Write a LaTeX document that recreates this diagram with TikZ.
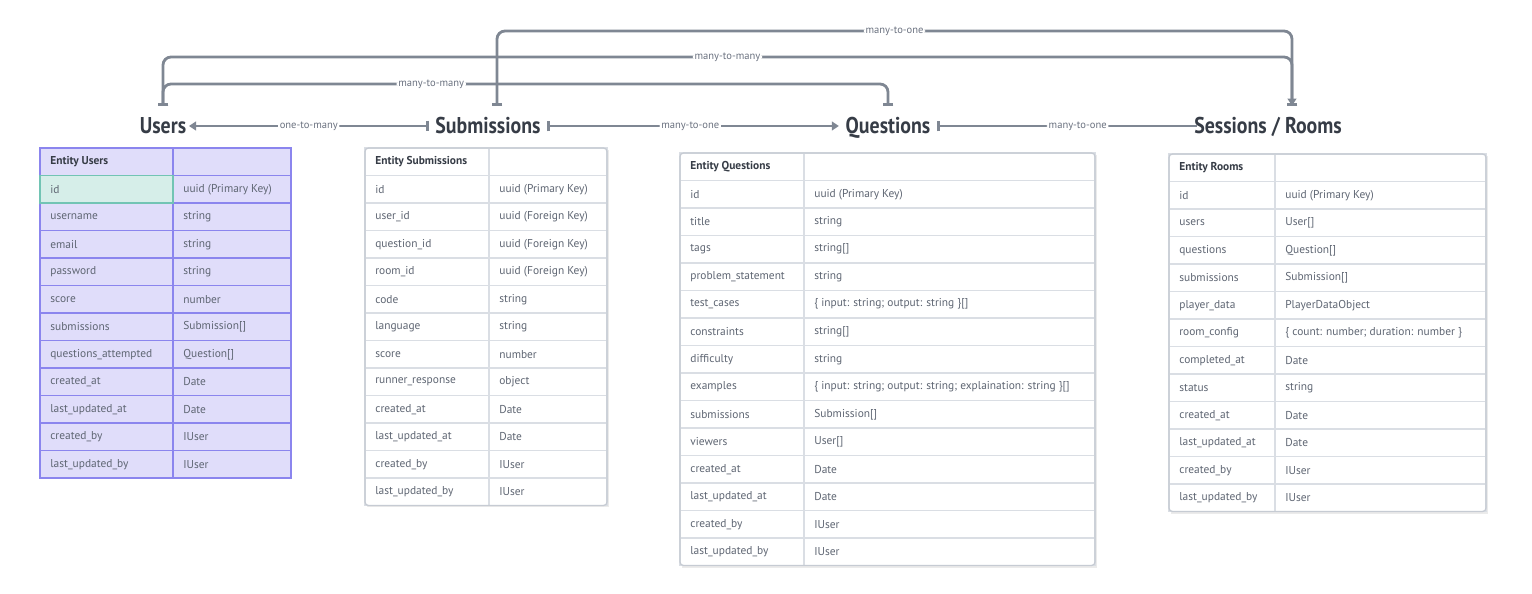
\documentclass[tikz,border=0pt]{standalone}
\usepackage{fontspec}
\setmainfont{PT Sans}
\newfontfamily\titlefont{PT Sans}[FakeStretch=0.87]
\usetikzlibrary{arrows.meta}
\definecolor{linkgray}{HTML}{7F8793}
\definecolor{labelgray}{HTML}{6B7280}
\definecolor{titlegray}{HTML}{363C46}
\definecolor{cellgray}{HTML}{5F6673}
\definecolor{gridgray}{HTML}{DADEE4}
\definecolor{framegray}{HTML}{C6CBD3}
\definecolor{userfill}{HTML}{E0DDFA}
\definecolor{userline}{HTML}{8B85EE}
\definecolor{keyfill}{HTML}{D6EEE9}
\definecolor{keyline}{HTML}{72C4B4}
\tikzset{rbar/.tip={Bar[width=6pt]},rtri/.tip={Triangle[length=4pt,width=5pt]}}
\newcommand{\entityhead}[1]{\textcolor{titlegray}{\bfseries #1}}
\newcommand{\entitytable}[6]{%
  \foreach \fname/\ftype [count=\i from 0] in {#6} {
    \draw[#5] (#1,#4+\i*27.5) rectangle (#2,#4+\i*27.5+27.5)
      (#2,#4+\i*27.5) rectangle (#3,#4+\i*27.5+27.5);
    \node[field] at (#1,#4+\i*27.5+13.75) {\fname};
    \node[field] at (#2,#4+\i*27.5+13.75) {\ftype};
  }
}
\begin{document}
\begin{tikzpicture}[x=0.02cm,y=-0.02cm,
  link/.style={draw=linkgray,line width=1.6pt,rounded corners=0.16cm},
  lbl/.style={fill=white,text=labelgray,font=\fontsize{6}{7}\selectfont,inner sep=1pt},
  title/.style={font=\titlefont\bfseries\fontsize{13}{15}\selectfont,text=titlegray,text height=1.07em,text depth=0.22em,minimum height=0.8cm,inner xsep=0.13cm,inner ysep=0pt},
  field/.style={anchor=west,inner sep=0pt,xshift=0.2cm,text=cellgray,font=\fontsize{6.5}{8}\selectfont},
  usercell/.style={draw=userline,fill=userfill,line width=0.7pt},
  plaincell/.style={draw=gridgray,fill=white,line width=0.6pt}]
\useasboundingbox (0,0) rectangle (1532,594);

\node[title] (users) at (163,126) {Users};
\node[title] (subm) at (488,126) {Submissions};
\node[title] (quest) at (888,126) {Questions};
\node[title] (rooms) at (1268,126) {Sessions / Rooms};

\coordinate (railA) at (0,31);
\coordinate (railB) at (0,57);
\coordinate (railC) at (0,84);
\coordinate (substop) at ([xshift=0.18cm]subm.north);
\coordinate (roomstop) at ([xshift=0.48cm]rooms.north);

\draw[link,rbar-rbar] (users.north) -- (users.north |- railC) -- node[lbl,pos=0.37] {many-to-many} (quest.north |- railC) -- (quest.north);
\draw[link,rbar-rbar] (users.north) -- (users.north |- railB) -- node[lbl,pos=0.5] {many-to-many} (roomstop |- railB) -- (roomstop);
\draw[link,rbar-rtri] (substop) -- (substop |- railA) -- node[lbl,pos=0.5] {many-to-one} (roomstop |- railA) -- (roomstop);

\draw[link,rtri-rbar] ([xshift=-0.08cm]users.east) -- node[lbl] {one-to-many} (subm.west);
\draw[link,rbar-rtri] (subm.east) -- node[lbl,pos=0.49] {many-to-one} (quest.west);
\draw[link,rbar-] (quest.east) -- node[lbl,pos=0.54] {many-to-one} ([xshift=0.2cm]rooms.west);

\entitytable{40}{173}{291}{148}{usercell}{{\entityhead{Entity Users}}/{},
  id/{uuid (Primary Key)}, username/string, email/string, password/string,
  score/number, submissions/{Submission[]}, questions\_attempted/{Question[]},
  created\_at/Date, last\_updated\_at/Date, created\_by/IUser, last\_updated\_by/IUser}
\draw[draw=keyline,fill=keyfill,line width=0.7pt] (40,175.5) rectangle (173,203);
\node[field] at (40,189.25) {id};

\fill[black!8] (367,150) rectangle (609,507.5);
\entitytable{365}{489}{607}{148}{plaincell}{{\entityhead{Entity Submissions}}/{},
  id/{uuid (Primary Key)}, user\_id/{uuid (Foreign Key)}, question\_id/{uuid (Foreign Key)},
  room\_id/{uuid (Foreign Key)}, code/string, language/string, score/number,
  runner\_response/object, created\_at/Date, last\_updated\_at/Date,
  created\_by/IUser, last\_updated\_by/IUser}
\draw[framegray,line width=0.7pt,rounded corners=2pt] (365,148) rectangle (607,505.5);

\fill[black!8] (682,155) rectangle (1097,567.5);
\entitytable{680}{804}{1095}{153}{plaincell}{{\entityhead{Entity Questions}}/{},
  id/{uuid (Primary Key)}, title/string, tags/{string[]}, problem\_statement/string,
  test\_cases/{\{ input: string; output: string \}[]}, constraints/{string[]},
  difficulty/string, examples/{\{ input: string; output: string; explaination: string \}[]},
  submissions/{Submission[]}, viewers/{User[]}, created\_at/Date, last\_updated\_at/Date,
  created\_by/IUser, last\_updated\_by/IUser}
\draw[framegray,line width=0.7pt,rounded corners=2pt] (680,153) rectangle (1095,565.5);

\fill[black!8] (1171,156) rectangle (1488,513.5);
\entitytable{1169}{1275}{1486}{154}{plaincell}{{\entityhead{Entity Rooms}}/{},
  id/{uuid (Primary Key)}, users/{User[]}, questions/{Question[]},
  submissions/{Submission[]}, player\_data/PlayerDataObject,
  room\_config/{\{ count: number; duration: number \}}, completed\_at/Date,
  status/string, created\_at/Date, last\_updated\_at/Date,
  created\_by/IUser, last\_updated\_by/IUser}
\draw[framegray,line width=0.7pt,rounded corners=2pt] (1169,154) rectangle (1486,511.5);
\end{tikzpicture}
\end{document}
